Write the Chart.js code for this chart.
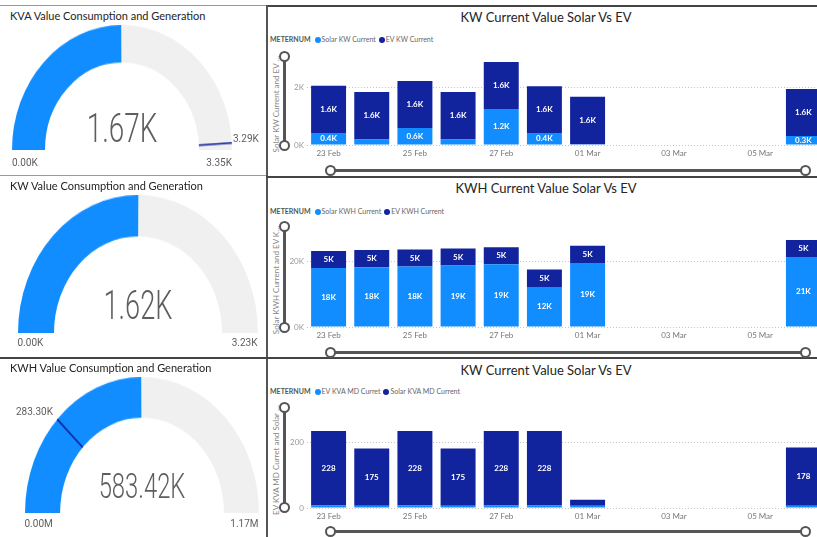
<!DOCTYPE html>
<html>
<head>
<meta charset="utf-8">
<script src="https://cdn.jsdelivr.net/npm/chart.js@4.4.1/dist/chart.umd.min.js"></script>
<style>
  html, body { margin: 0; padding: 0; }
  body { width: 817px; height: 537px; overflow: hidden; position: relative; background: #fff; font-family: Lato, sans-serif; }
  .rule { position: absolute; }
  .legend { position: absolute; display: flex; align-items: center; font-size: 7px; color: #666; white-space: nowrap; line-height: 1; }
  .legend b { color: #555; margin-right: 4px; }
  .legend i { display: inline-block; width: 6px; height: 6px; border-radius: 50%; margin-right: 1px; }
  .legend span { margin-right: 3px; }
  .knob { position: absolute; width: 7px; height: 7px; border: 2px solid #555; border-radius: 50%; background: #fff; }
</style>
</head>
<body>
<script>
// ---- gauge data ----
const gaugeTitles = ['KVA Value Consumption and Generation', 'KW Value Consumption and Generation', 'KWH Value Consumption and Generation'];
const gaugeValues = [1670, 1620, 583420];
const gaugeMaxes = [3350, 3230, 1170000];
const gaugeTargets = [3290, null, 283300];
const gaugeRangeUnits = ['K', 'K', 'M'];

// ---- bar data ----
const days = ['23 Feb', '24 Feb', '25 Feb', '26 Feb', '27 Feb', '28 Feb', '01 Mar', '02 Mar', '03 Mar', '04 Mar', '05 Mar', '06 Mar'];
const solarKw = [410, 190, 590, 190, 1240, 410, 30, null, null, null, null, 310];
const evKw = [1630, 1640, 1620, 1640, 1620, 1620, 1630, null, null, null, null, 1620];
const solarKwh = [17900, 18100, 18300, 18600, 19000, 12100, 19400, null, null, null, null, 21200];
const evKwh = [5100, 5200, 5200, 5200, 5200, 5300, 5200, null, null, null, null, 5200];
const evKva = [8, 7, 8, 7, 8, 8, 7, null, null, null, null, 7];
const solarKva = [228, 175, 228, 175, 228, 228, 18, null, null, null, null, 178];

const LIGHT = '#118DFF';
const DARK = '#12239E';
Chart.defaults.font.family = 'Lato';

function fmt(v, unit) {
  return unit === 'M' ? (v / 1e6).toFixed(2) + 'M' : (v / 1000).toFixed(2) + 'K';
}

function put(text, x, y, o) {
  const d = document.createElement('div');
  d.textContent = text;
  const tx = o.align === 'center' ? '-50%' : o.align === 'right' ? '-100%' : '0';
  d.style.cssText = 'position:absolute;white-space:nowrap;line-height:1;' +
    'font-family:' + (o.font || 'Lato') + ';font-size:' + o.size + 'px;font-weight:' + (o.weight || 400) +
    ';color:' + (o.color || '#252423') + ';left:' + x + 'px;top:' + y + 'px;' +
    'transform:translate(' + tx + ',-50%)' + (o.sx ? ' scaleX(' + o.sx + ')' : '') + (o.rot ? ' rotate(' + o.rot + 'deg)' : '');
  document.body.appendChild(d);
  return d;
}

function rule(x, y, w, h, c) {
  const d = document.createElement('div');
  d.className = 'rule';
  d.style.cssText += 'left:' + x + 'px;top:' + y + 'px;width:' + w + 'px;height:' + h + 'px;background:' + c;
  document.body.appendChild(d);
}

function knob(cx, cy) {
  const d = document.createElement('div');
  d.className = 'knob';
  d.style.left = (cx - 5.5) + 'px';
  d.style.top = (cy - 5.5) + 'px';
  document.body.appendChild(d);
}

// panel borders
rule(0, 5, 266, 1, '#999');
rule(266, 5, 551, 2, '#444');
rule(266, 5, 2, 532, '#555');
rule(0, 175, 266, 1, '#999');
rule(266, 176, 551, 2, '#444');
rule(0, 357, 817, 2, '#444');

// ---- gauges ----
const gaugeBoxes = [
  { cx: 122, by: 150, rx: 110, ry: 125, ty: 15, numY: 127.5, numSize: 41, labY: 163 },
  { cx: 137.5, by: 333, rx: 120, ry: 138, ty: 185, numY: 306, numSize: 40, labY: 343 },
  { cx: 141.5, by: 513, rx: 117, ry: 136, ty: 367, numY: 485.5, numSize: 35, labY: 524 }
];

gaugeBoxes.forEach((g, i) => {
  put(gaugeTitles[i], 10, g.ty, { size: 11, color: '#252423' });

  const wrap = document.createElement('div');
  wrap.style.cssText = 'position:absolute;left:' + (g.cx - g.rx) + 'px;top:' + (g.by - g.rx) + 'px;' +
    'transform-origin:50% 100%;transform:scaleY(' + (g.ry / g.rx) + ')';
  const cv = document.createElement('canvas');
  cv.width = g.rx * 2;
  cv.height = g.rx;
  wrap.appendChild(cv);
  document.body.appendChild(wrap);

  const value = gaugeValues[i], max = gaugeMaxes[i], target = gaugeTargets[i];
  const targetLine = {
    id: 'targetLine',
    afterDatasetsDraw(chart) {
      if (target == null) return;
      const arc = chart.getDatasetMeta(0).data[0];
      const a = -Math.PI + Math.PI * target / max;
      const ctx = chart.ctx;
      ctx.save();
      ctx.strokeStyle = DARK;
      ctx.lineWidth = 1.5;
      ctx.beginPath();
      ctx.moveTo(arc.x + Math.cos(a) * arc.innerRadius, arc.y + Math.sin(a) * arc.innerRadius);
      ctx.lineTo(arc.x + Math.cos(a) * arc.outerRadius, arc.y + Math.sin(a) * arc.outerRadius);
      ctx.stroke();
      ctx.restore();
    }
  };

  new Chart(cv, {
    type: 'doughnut',
    data: {
      datasets: [{ data: [value, max - value], backgroundColor: [LIGHT, '#F0F0F0'], borderWidth: 0 }]
    },
    options: {
      responsive: false,
      animation: false,
      rotation: -90,
      circumference: 180,
      cutout: '70%',
      layout: { padding: 0 },
      plugins: { legend: { display: false }, tooltip: { enabled: false } }
    },
    plugins: [targetLine]
  });

  put(fmt(value, 'K'), g.cx, g.numY, { size: g.numSize, font: 'Roboto', weight: 300, color: '#605E5C', align: 'center', sx: 0.68 });
  put(fmt(0, gaugeRangeUnits[i]), g.cx - g.rx, g.labY, { size: 10, font: 'Roboto', color: '#605E5C' });
  put(fmt(max, gaugeRangeUnits[i]), g.cx + g.rx, g.labY, { size: 10, font: 'Roboto', color: '#605E5C', align: 'right' });
});
put(fmt(gaugeTargets[0], 'K'), 233, 139, { size: 10, font: 'Roboto', color: '#605E5C' });
put(fmt(gaugeTargets[2], 'K'), 53, 412, { size: 10, font: 'Roboto', color: '#605E5C', align: 'right' });

// ---- stacked bars ----
const barPanels = [
  {
    title: 'KW Current Value Solar Vs EV', titleY: 17, legendY: 40, axisTitle: 'Solar KW Current and EV …',
    series: [{ label: 'Solar KW Current', data: solarKw, color: LIGHT }, { label: 'EV KW Current', data: evKw, color: DARK }],
    max: 3000, ticks: [0, 2000], tickFmt: v => (v / 1000) + 'K', labelFmt: v => (v / 1000).toFixed(1) + 'K',
    top: 58, bottom: 145, sliderY: 170
  },
  {
    title: 'KWH Current Value Solar Vs EV', titleY: 188, legendY: 212, axisTitle: 'Solar KWH Current and EV K…',
    series: [{ label: 'Solar KWH Current', data: solarKwh, color: LIGHT }, { label: 'EV KWH Current', data: evKwh, color: DARK }],
    max: 30000, ticks: [0, 20000], tickFmt: v => (v / 1000) + 'K', labelFmt: v => Math.round(v / 1000) + 'K',
    top: 228, bottom: 327, sliderY: 352
  },
  {
    title: 'KW Current Value Solar Vs EV', titleY: 370, legendY: 392, axisTitle: 'EV KVA MD Curret and Solar …',
    series: [{ label: 'EV KVA MD Curret', data: evKva, color: LIGHT }, { label: 'Solar KVA MD Current', data: solarKva, color: DARK }],
    max: 300, ticks: [0, 200], tickFmt: v => String(v), labelFmt: v => String(Math.round(v)),
    top: 409.5, bottom: 507, sliderY: 531
  }
];

barPanels.forEach(p => {
  put(p.title, 546, p.titleY, { size: 13, color: '#252423', align: 'center' });

  const lg = document.createElement('div');
  lg.className = 'legend';
  lg.style.left = '270px';
  lg.style.top = (p.legendY - 4) + 'px';
  lg.innerHTML = '<b>METERNUM</b>' + p.series.map(s => '<i style="background:' + s.color + '"></i><span>' + s.label + '</span>').join('');
  document.body.appendChild(lg);

  put(p.axisTitle, 276, (p.top + p.bottom) / 2 + 2, { size: 8, color: '#888', align: 'center', rot: -90 });

  // range sliders
  rule(282.5, p.top - 2, 3, p.bottom - p.top + 2, '#555');
  knob(284, p.top - 2);
  knob(284, p.bottom);
  rule(330, p.sliderY - 1.5, 475, 3, '#555');
  knob(330, p.sliderY);
  knob(805, p.sliderY);

  const padTop = 10, axisH = 16, left = 287;
  const cv = document.createElement('canvas');
  cv.width = 538;
  cv.height = Math.round(p.bottom + axisH - (p.top - padTop));
  cv.style.position = 'absolute';
  cv.style.left = left + 'px';
  cv.style.top = (p.top - padTop) + 'px';
  document.body.appendChild(cv);

  const barLabels = {
    id: 'barLabels',
    afterDatasetsDraw(chart) {
      const ctx = chart.ctx;
      ctx.save();
      ctx.font = 'bold 8px Lato';
      ctx.fillStyle = '#fff';
      ctx.textAlign = 'center';
      ctx.textBaseline = 'middle';
      chart.data.datasets.forEach((ds, i) => {
        chart.getDatasetMeta(i).data.forEach((bar, j) => {
          const v = ds.data[j];
          if (v == null || Math.abs(bar.base - bar.y) < 8) return;
          ctx.fillText(p.labelFmt(v), bar.x, (bar.y + bar.base) / 2);
        });
      });
      ctx.restore();
    }
  };

  new Chart(cv, {
    type: 'bar',
    data: {
      labels: days,
      datasets: p.series.map(s => ({
        label: s.label, data: s.data, backgroundColor: s.color, borderWidth: 0,
        categoryPercentage: 1, barPercentage: 0.81
      }))
    },
    options: {
      responsive: false,
      animation: false,
      layout: { padding: { top: padTop, left: 0, right: 0, bottom: 0 } },
      plugins: { legend: { display: false }, tooltip: { enabled: false } },
      scales: {
        x: {
          stacked: true,
          grid: { display: false, drawTicks: false },
          border: { display: false },
          ticks: {
            autoSkip: false, maxRotation: 0, padding: 4, color: '#777', font: { size: 8 },
            callback: (v, i) => (i % 2 === 0 ? days[i] : '')
          },
          afterFit: s => { s.height = axisH; }
        },
        y: {
          stacked: true, min: 0, max: p.max,
          grid: { color: '#C8C6C4', drawTicks: false },
          border: { display: false, dash: [1, 2] },
          ticks: { padding: 3, color: '#999', font: { size: 8 }, callback: v => p.tickFmt(v) },
          afterBuildTicks: s => { s.ticks = p.ticks.map(v => ({ value: v })); },
          afterFit: s => { s.width = 20; }
        }
      }
    },
    plugins: [barLabels]
  });
});
</script>
</body>
</html>
